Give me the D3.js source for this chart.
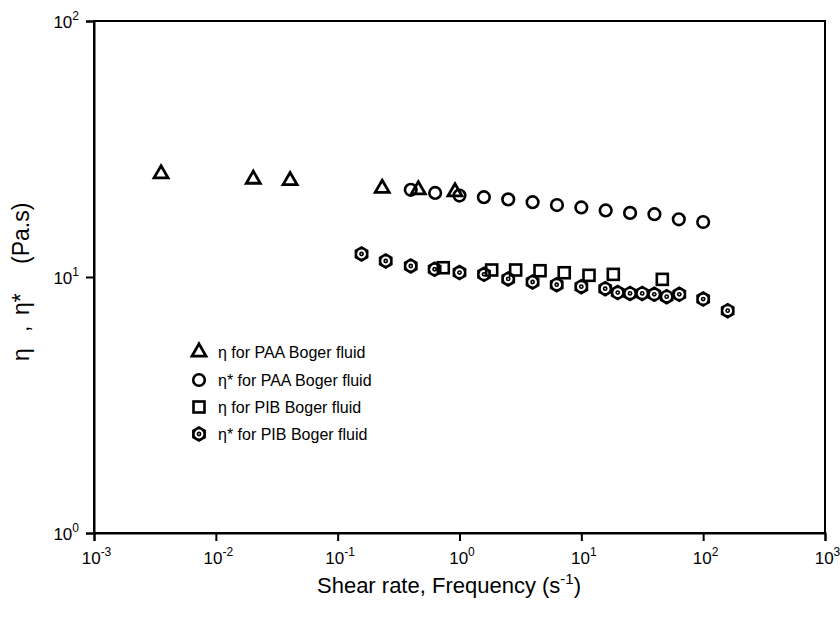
<!DOCTYPE html>
<html><head><meta charset="utf-8">
<script src="https://cdn.jsdelivr.net/npm/d3@7"></script>
<style>body{margin:0;background:#fff}svg{display:block}text{font-family:"Liberation Sans",Arial,sans-serif}</style>
</head><body>
<svg id="c" width="840" height="619"></svg>
<script>
const paaEtaX = [0.00355, 0.0203, 0.0407, 0.232, 0.459, 0.918];
const paaEtaY = [25.3, 24.1, 23.8, 22.2, 21.9, 21.5];
const paaStarX = [0.398, 0.631, 1, 1.585, 2.512, 3.981, 6.31, 10, 15.85, 25.12, 39.81, 63.1, 100];
const paaStarY = [21.9, 21.3, 20.8, 20.5, 20.1, 19.6, 19.1, 18.7, 18.2, 17.8, 17.6, 16.8, 16.4];
const pibEtaX = [0.736, 1.837, 2.89, 4.58, 7.24, 11.56, 18.3, 46.2];
const pibEtaY = [10.87, 10.65, 10.65, 10.58, 10.39, 10.15, 10.24, 9.79];
const pibStarX = [0.157, 0.248, 0.398, 0.625, 1.0, 1.59, 2.51, 3.98, 6.28, 10, 15.7, 19.9, 25.1, 31.6, 39.7, 50.2, 63.7, 100, 159];
const pibStarY = [12.3, 11.55, 11.04, 10.72, 10.41, 10.24, 9.83, 9.56, 9.33, 9.17, 9.0, 8.69, 8.63, 8.63, 8.56, 8.38, 8.56, 8.20, 7.39];
const xTickExp = [-3, -2, -1, 0, 1, 2, 3];
const yTickExp = [0, 1, 2];
const legendLabels = ["η for PAA Boger fluid", "η* for PAA Boger fluid", "η for PIB Boger fluid", "η* for PIB Boger fluid"];
const xTitle = "Shear rate, Frequency (s";
const yTitleParts = ["η", ",", "η*", "(Pa.s)"];

const svg = d3.select("#c");
const L = 94, R = 825, T = 21, B = 533;
const x = d3.scaleLog().domain([1e-3, 1e3]).range([L, R]);
const y = d3.scaleLog().domain([1, 100]).range([B, T]);

svg.append("rect").attr("x", L).attr("y", T).attr("width", R - L).attr("height", B - T)
  .attr("fill", "none").attr("stroke", "#000").attr("stroke-width", 2);

function supLabel(t, d) {
  const e = Math.round(Math.log10(d));
  t.append("tspan").text("10");
  t.append("tspan").attr("dy", -8).attr("font-size", 12).text(e);
}

const xa = svg.append("g").attr("transform", `translate(0,${B})`)
  .call(d3.axisBottom(x).tickValues(xTickExp.map(e => Math.pow(10, e))).tickSize(8).tickFormat(""));
xa.select(".domain").attr("stroke-width", 2);
xa.selectAll(".tick line").attr("stroke-width", 2);
xa.selectAll(".tick").append("text").attr("y", 31).attr("x", 2).attr("fill", "#000").attr("font-size", 17)
  .attr("text-anchor", "middle").each(function(d) { supLabel(d3.select(this), d); });

const ya = svg.append("g").attr("transform", `translate(${L},0)`)
  .call(d3.axisLeft(y).tickValues(yTickExp.map(e => Math.pow(10, e))).tickSize(8).tickFormat(""));
ya.select(".domain").attr("stroke-width", 2);
ya.selectAll(".tick line").attr("stroke-width", 2);
ya.selectAll(".tick").append("text").attr("x", -15).attr("y", 6).attr("fill", "#000").attr("font-size", 17)
  .attr("text-anchor", "end").each(function(d) { supLabel(d3.select(this), d); });

const xt = svg.append("text").attr("x", 449).attr("y", 593).attr("text-anchor", "middle")
  .attr("font-size", 22).attr("fill", "#000");
xt.append("tspan").text(xTitle);
xt.append("tspan").attr("dy", -9).attr("font-size", 15).text("-1");
xt.append("tspan").attr("dy", 9).text(")");

const yt = svg.append("text").attr("transform", "translate(29,361) rotate(-90)")
  .attr("font-size", 23).attr("fill", "#000");
const yOff = [0, 29, 46, 97];
yTitleParts.forEach((p, i) => yt.append("tspan").attr("x", yOff[i]).text(p));

function tri(g) {
  g.append("path").attr("d", d3.symbol(d3.symbolTriangle, 85)()).attr("fill", "none")
    .attr("stroke", "#000").attr("stroke-width", 2.8);
}
function circ(g) {
  g.append("circle").attr("r", 5.8).attr("fill", "none").attr("stroke", "#000").attr("stroke-width", 2.6);
}
function sq(g) {
  g.append("rect").attr("x", -5.5).attr("y", -5.5).attr("width", 11).attr("height", 11)
    .attr("fill", "none").attr("stroke", "#000").attr("stroke-width", 2.6);
}
const hexPts = d3.range(6).map(i => { const a = Math.PI / 2 + i * Math.PI / 3; return [8 * Math.cos(a), 8 * Math.sin(a)]; });
function hex(g) {
  g.append("path").attr("d", d3.line()(hexPts) + "Z").attr("fill", "#000");
  g.append("circle").attr("r", 4.4).attr("fill", "#fff");
  g.append("circle").attr("r", 2.4).attr("fill", "#000");
  g.append("circle").attr("r", 0.8).attr("fill", "#fff");
}

function series(xs, ys, draw) {
  const g = svg.append("g");
  xs.forEach((xv, i) => {
    draw(g.append("g").attr("transform", `translate(${x(xv)},${y(ys[i])})`));
  });
}
series(pibStarX, pibStarY, hex);
series(pibEtaX, pibEtaY, sq);
series(paaStarX, paaStarY, circ);
series(paaEtaX, paaEtaY, tri);

const draws = [tri, circ, sq, hex];
const legY = [352, 380, 407, 434];
legendLabels.forEach((lab, i) => {
  draws[i](svg.append("g").attr("transform", `translate(199,${legY[i]})`));
  svg.append("text").attr("x", 218).attr("y", legY[i] + 6).attr("font-size", 16).attr("fill", "#000").text(lab);
});
</script>
</body></html>
